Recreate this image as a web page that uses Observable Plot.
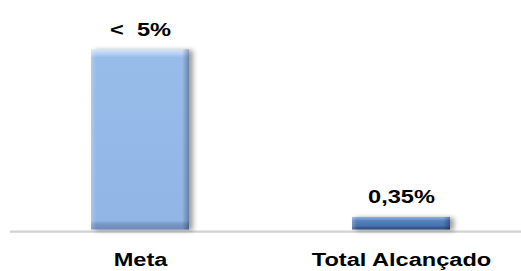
<!DOCTYPE html>
<html>
<head>
<meta charset="utf-8">
<script src="https://cdn.jsdelivr.net/npm/d3@7"></script>
<script src="https://cdn.jsdelivr.net/npm/@observablehq/plot@0.6"></script>
<style>
  html, body { margin: 0; padding: 0; background: #fff; }
  #chart svg { display: block; }
  .bars rect { filter: drop-shadow(4px 1px 2.5px rgba(0,0,0,0.38)); }
</style>
</head>
<body>
<div id="chart"></div>
<script>
const categories = ["Meta", "Total Alcançado"];
const values = [5, 0.35];
const valueLabels = ["<\u00a0\u00a05%", "0,35%"];

const data = categories.map((c, i) => ({cat: c, value: values[i], label: valueLabels[i]}));

function defs() {
  const d = d3.create("svg:defs");
  const mk = (id, stops, horiz) => {
    const g = d.append("linearGradient").attr("id", id)
      .attr("x1", 0).attr("y1", 0).attr("x2", horiz ? 1 : 0).attr("y2", horiz ? 0 : 1);
    stops.forEach(([o, c, a]) => g.append("stop").attr("offset", o).attr("stop-color", c).attr("stop-opacity", a == null ? 1 : a));
  };
  mk("g1", [[0, "#d6e7fb"], [0.025, "#b5d0f3"], [0.045, "#98bcea"], [0.95, "#91b5e5"], [0.97, "#7898c6"], [1, "#6a8bb9"]]);
  mk("g2", [[0, "#93b3df"], [0.2, "#6d94cc"], [0.32, "#5380c0"], [0.72, "#4771ad"], [0.85, "#345a8f"], [1, "#2a4b7c"]]);
  mk("h", [[0, "#ffffff", 0.25], [0.05, "#ffffff", 0], [0.93, "#000000", 0], [1, "#000000", 0.3]], true);
  return d.node();
}

const font = "'Liberation Sans', Arial, sans-serif";

const chart = Plot.plot({
  width: 521,
  height: 271,
  marginLeft: 10,
  marginRight: 0,
  marginTop: 49.3,
  marginBottom: 41.5,
  style: {fontFamily: font, background: "#fff"},
  x: {domain: categories, range: [12.6, 529.4], paddingInner: 0.623, paddingOuter: 0.3, label: null},
  y: {domain: [0, 5], axis: null},
  marks: [
    defs,
    Plot.ruleY([0], {stroke: "#d2d2d2", strokeWidth: 2.2, dy: 1.6}),
    Plot.barY(data.filter(d => d.cat === categories[0]), {x: "cat", y: "value", fill: "url(#g1)", className: "bars"}),
    Plot.barY(data.filter(d => d.cat === categories[1]), {x: "cat", y: "value", fill: "url(#g2)", className: "bars"}),
    Plot.barY(data, {x: "cat", y: "value", fill: "url(#h)"}),
    Plot.text(data, {x: "cat", y: "value", text: "label", lineAnchor: "bottom", dy: -14.3, fontSize: 18, fontWeight: "bold", fill: "#000"}),
    Plot.axisX({tickSize: 0, tickPadding: 23.6, fontSize: 18, fontWeight: "bold", fill: "#000", label: null})
  ]
});
document.getElementById("chart").appendChild(chart);

// the reference lettering is horizontally wider than regular Arial
chart.querySelectorAll("text").forEach(t => {
  const len = t.getComputedTextLength();
  if (len > 0) {
    t.setAttribute("textLength", (len * 1.31).toFixed(1));
    t.setAttribute("lengthAdjust", "spacingAndGlyphs");
  }
});
</script>
</body>
</html>
